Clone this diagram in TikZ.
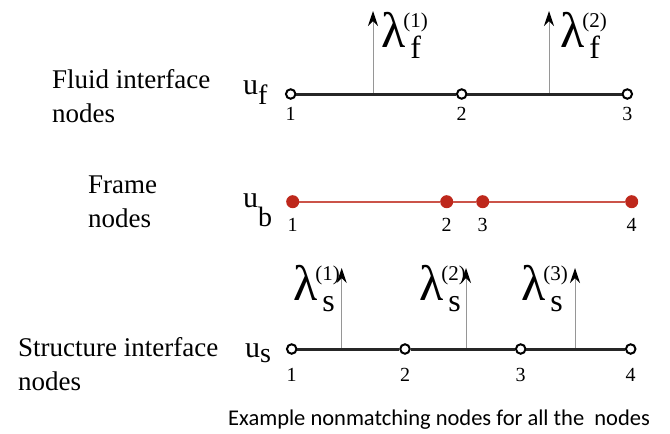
\documentclass[tikz,border=0pt]{standalone}
\usepackage{fontspec}
\setmainfont{Liberation Serif}
\newfontfamily\capfont{Carlito}
\usetikzlibrary{positioning,arrows.meta}

\definecolor{framered}{RGB}{190,40,28}
\definecolor{arrowgray}{RGB}{150,150,150}

% u with a lowered index
\newcommand{\uvar}[2]{u\raisebox{-#2}{\fontsize{28}{28}\selectfont #1}}
% multiplier with index and number
\newcommand{\lam}[2]{λ\kern-2pt\rlap{\raisebox{20pt}{\fontsize{21}{21}\selectfont(#2)}}\kern7pt\raisebox{-11pt}{\fontsize{32}{32}\selectfont #1}}

\begin{document}
\begin{tikzpicture}[x=1pt,y=-1pt,
  hollow/.style={circle,draw=black,fill=white,line width=2pt,minimum size=9.5pt,inner sep=0pt},
  dot/.style={circle,fill=framered,minimum size=13pt,inner sep=0pt},
  num/.style={inner sep=0pt,font=\fontsize{20}{20}\selectfont},
  sidelab/.style={inner sep=0pt,align=left,anchor=north west,font=\fontsize{27}{34}\selectfont},
  ifaceline/.style={line width=3pt,black!85},
  frameline/.style={line width=2.4pt,framered!80},
  lagr/.style={draw=arrowgray,line width=1pt,-{Stealth[length=15pt,width=10pt,black]}},
  lamlab/.style={inner sep=0pt,anchor=base west,font=\fontsize{50}{50}\selectfont},
  varlab/.style={inner sep=0pt,anchor=base west,font=\fontsize{30}{30}\selectfont}]
\useasboundingbox (0,0) rectangle (670,434);

% fluid interface
\node [sidelab] (fluidtxt) at (52,69) {Fluid interface\\nodes};
\node [varlab] (uf) at (243,94) {\uvar{f}{10pt}};
\coordinate (af1) at (373,94);
\coordinate (tf1) at (373,11);
\coordinate (af2) at (549,94);
\coordinate (tf2) at (549,11);
\draw [lagr] (af1) -- (tf1);
\draw [lagr] (af2) -- (tf2);
\node [lamlab] (lf1) at (381,47) {\lam{f}{1}};
\node [lamlab] (lf2) at (560,47) {\lam{f}{2}};
\node [hollow] (f1) at (290.7,94) {};
\node [hollow] (f2) at (461.7,94) {};
\node [hollow] (f3) at (627.3,94) {};
\draw [ifaceline] (f1) -- (f2) -- (f3);
\node [num, below=7pt of f1] {1};
\node [num, below=7pt of f2] {2};
\node [num, below=7pt of f3] {3};

% frame
\node [sidelab] (frametxt) at (88,175.5) {Frame\\nodes};
\node [varlab] (ub) at (243,207) {\uvar{b}{19pt}};
\node [dot] (b1) at (292.7,201.7) {};
\node [dot] (b2) at (446.7,201.7) {};
\node [dot] (b3) at (482.7,201.7) {};
\node [dot] (b4) at (631.7,201.7) {};
\draw [frameline] (b1) -- (b2) -- (b3) -- (b4);
\node [num, below=10pt of b1] {1};
\node [num, below=10pt of b2] {2};
\node [num, below=10pt of b3] {3};
\node [num, below=10pt of b4] {4};

% structure interface
\node [sidelab] (structtxt) at (18,337) {Structure interface\\nodes};
\node [varlab] (us) at (245,357) {\uvar{s}{5pt}};
\coordinate (as1) at (341.7,349);
\coordinate (ts1) at (341.7,268);
\coordinate (as2) at (466,349);
\coordinate (ts2) at (466,268);
\coordinate (as3) at (575,349);
\coordinate (ts3) at (575,268);
\draw [lagr] (as1) -- (ts1);
\draw [lagr] (as2) -- (ts2);
\draw [lagr] (as3) -- (ts3);
\node [lamlab] (ls1) at (293,300) {\lam{s}{1}};
\node [lamlab] (ls2) at (419,300) {\lam{s}{2}};
\node [lamlab] (ls3) at (521,300) {\lam{s}{3}};
\node [hollow] (s1) at (291.7,349) {};
\node [hollow] (s2) at (405,349) {};
\node [hollow] (s3) at (520.7,349) {};
\node [hollow] (s4) at (630.7,349) {};
\draw [ifaceline] (s1) -- (s2) -- (s3) -- (s4);
\node [num, below=13pt of s1] {1};
\node [num, below=13pt of s2] {2};
\node [num, below=13pt of s3] {3};
\node [num, below=13pt of s4] {4};

\node [inner sep=0pt, anchor=base west, font=\capfont\fontsize{22.5}{22.5}\selectfont] (caption) at (228,425) {Example nonmatching nodes for all the\ \ nodes};
\end{tikzpicture}
\end{document}
